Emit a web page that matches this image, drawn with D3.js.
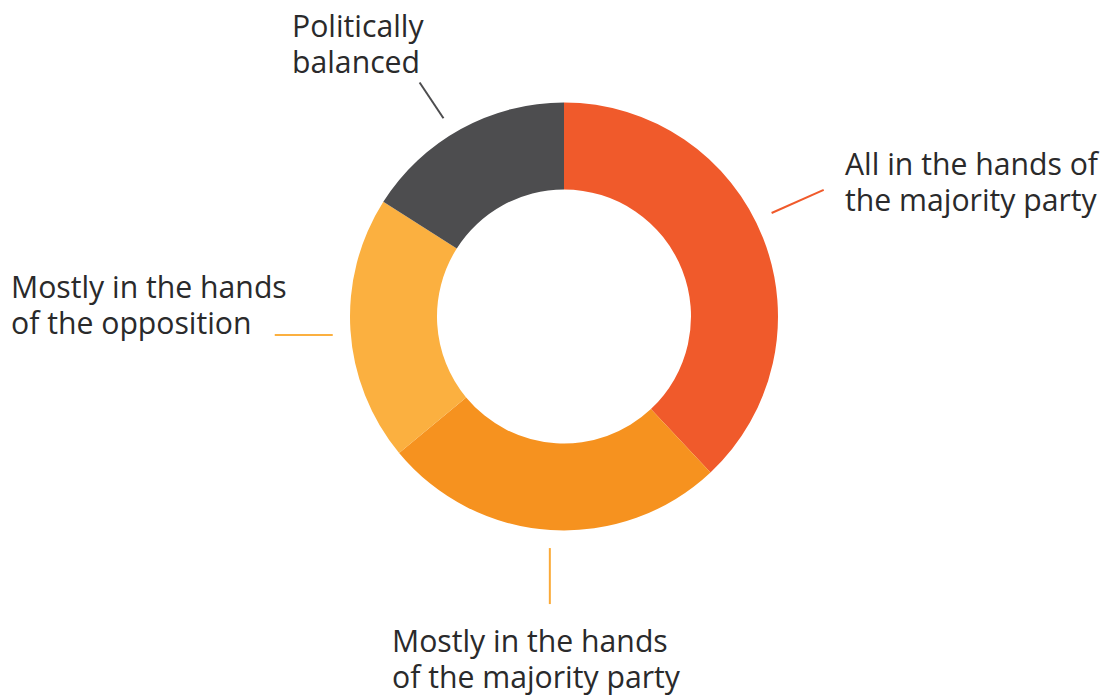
<!DOCTYPE html>
<html>
<head>
<meta charset="utf-8">
<script src="https://cdn.jsdelivr.net/npm/d3@7"></script>
<style>
  html, body { margin: 0; padding: 0; background: #fff; }
  svg { display: block; }
</style>
</head>
<body>
<svg id="chart" width="1109" height="695"></svg>
<script>
// Who controls the institution: share of responses
const categories = [
  "All in the hands of the majority party",
  "Mostly in the hands of the majority party",
  "Mostly in the hands of the opposition",
  "Politically balanced"
];
const values = [38, 26, 20, 16];
const colors = ["#F05A2B", "#F6921F", "#FBB040", "#4D4D4F"];
const lineColors = ["#F05A2B", "#FBAA38", "#FBB040", "#4D4D4F"];
const labelLines = [
  ["All in the hands of", "the majority party"],
  ["Mostly in the hands", "of the majority party"],
  ["Mostly in the hands", "of the opposition"],
  ["Politically", "balanced"]
];

// layout
const cx = 564, cy = 316.5;
const outerR = 214, innerR = 127;
// leader lines: start on a circle just outside the ring (nudged from slice middle),
// then run in a fixed direction towards the label
const leaderStartR = 232;
const leaderAngleShift = [-4.9, -0.1, -1.0, -2.5];   // degrees
const leaderDir = [66, 180, 270, 326.3];              // degrees, clockwise from up
const leaderLen = [57, 56, 58, 43];
const labelPos = [[845, 175], [392, 652], [11, 298], [292, 37]];
const lineHeight = 36;

const svg = d3.select("#chart");
const g = svg.append("g").attr("transform", `translate(${cx},${cy})`);

const pie = d3.pie().sort(null).value(d => d);
const arcs = pie(values);
const arc = d3.arc().innerRadius(innerR).outerRadius(outerR);

g.selectAll("path.slice")
  .data(arcs)
  .join("path")
  .attr("class", "slice")
  .attr("d", arc)
  .attr("fill", (d, i) => colors[i]);

const rad = Math.PI / 180;
g.selectAll("line.leader")
  .data(arcs)
  .join("line")
  .attr("class", "leader")
  .each(function (d, i) {
    const a = (d.startAngle + d.endAngle) / 2 + leaderAngleShift[i] * rad;
    const x1 = leaderStartR * Math.sin(a), y1 = -leaderStartR * Math.cos(a);
    const dir = leaderDir[i] * rad;
    d3.select(this)
      .attr("x1", x1).attr("y1", y1)
      .attr("x2", x1 + leaderLen[i] * Math.sin(dir))
      .attr("y2", y1 - leaderLen[i] * Math.cos(dir));
  })
  .attr("stroke", (d, i) => lineColors[i])
  .attr("stroke-width", 2);

// category labels
const labels = svg.selectAll("text.label")
  .data(categories)
  .join("text")
  .attr("class", "label")
  .attr("x", (d, i) => labelPos[i][0])
  .attr("y", (d, i) => labelPos[i][1])
  .attr("font-family", "'Open Sans', 'Noto Sans', sans-serif")
  .attr("font-size", 30.2)
  .attr("fill", "#2A2A2B");

labels.selectAll("tspan")
  .data((d, i) => labelLines[i].map((t, k) => ({ t, k, x: labelPos[i][0] })))
  .join("tspan")
  .attr("x", d => d.x)
  .attr("dy", d => d.k === 0 ? 0 : lineHeight)
  .text(d => d.t);
</script>
</body>
</html>
